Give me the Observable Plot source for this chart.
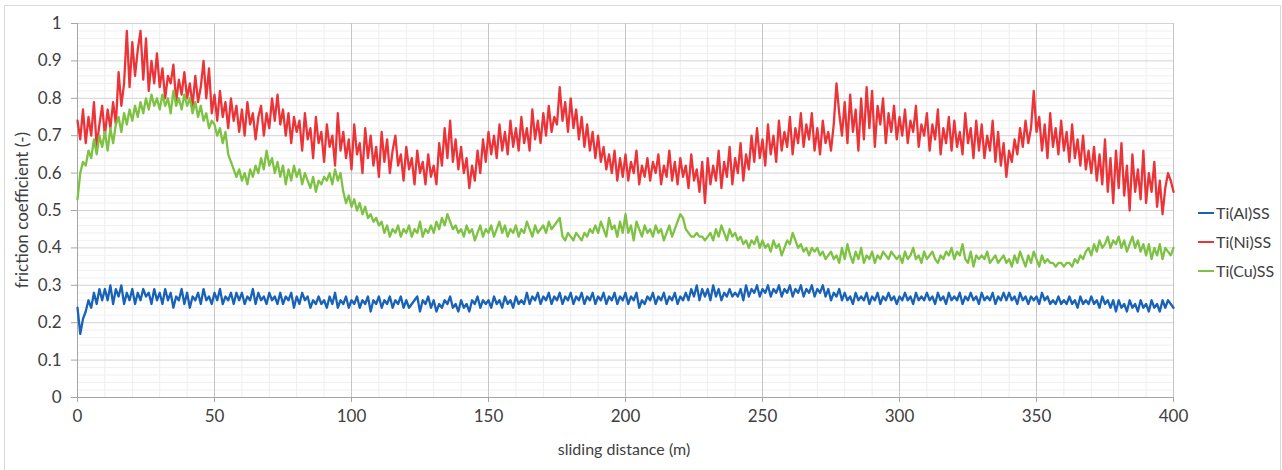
<!DOCTYPE html>
<html><head><meta charset="utf-8">
<script src="https://cdn.jsdelivr.net/npm/d3@7"></script>
<script src="https://cdn.jsdelivr.net/npm/@observablehq/plot@0.6"></script>
<style>
body{margin:0;background:#fff;}
#wrap{position:relative;width:1282px;height:470px;font-family:Lato,"Open Sans",sans-serif;color:#404040;overflow:hidden}
#frame{position:absolute;left:4px;top:5px;width:1275px;height:480px;border:1px solid #d9d9d9;pointer-events:none}
#legend{position:absolute;left:1198px;top:198px;font-size:16px}
#legend div{height:29px;line-height:29px;display:flex;align-items:center;white-space:nowrap}
#legend span.sw{display:inline-block;width:16px;height:2px;margin-right:2px}
#xlab{position:absolute;left:0;width:1248px;top:439px;text-align:center;font-size:16px}
#ylab{position:absolute;left:21px;top:210px;font-size:17px;transform:translate(-50%,-50%) rotate(-90deg);white-space:nowrap}
</style>
</head><body>
<div id="wrap"><div id="chart"></div><div id="frame"></div><div id="legend"></div>
<div id="xlab">sliding distance (m)</div><div id="ylab">friction coefficient (-)</div></div>
<script>
const seriesNames = ["Ti(Al)SS", "Ti(Ni)SS", "Ti(Cu)SS"];
const seriesColors = ["#1862b8", "#ec3338", "#7dc242"];
const xTicks = [0, 50, 100, 150, 200, 250, 300, 350, 400];
const yTicks = [0, 0.1, 0.2, 0.3, 0.4, 0.5, 0.6, 0.7, 0.8, 0.9, 1];
const xStep = 1; // sliding distance between samples (m)

const alValues = [
.24,.17,.21,.23,.26,.24,.28,.25,.29,.26,
.29,.26,.30,.25,.29,.27,.30,.25,.28,.26,
.29,.25,.28,.26,.29,.27,.28,.25,.29,.26,
.28,.25,.29,.26,.28,.24,.27,.26,.29,.25,
.28,.24,.27,.26,.28,.25,.29,.26,.27,.25,
.28,.26,.29,.25,.27,.26,.28,.25,.28,.26,
.28,.25,.27,.26,.29,.25,.28,.26,.27,.25,
.28,.26,.27,.25,.28,.25,.27,.26,.28,.24,
.27,.25,.28,.26,.27,.24,.26,.25,.27,.25,
.26,.24,.27,.25,.28,.24,.26,.25,.27,.24,
.26,.25,.27,.24,.26,.25,.27,.23,.26,.25,
.27,.24,.26,.25,.27,.24,.26,.25,.27,.24,
.26,.24,.25,.26,.27,.23,.26,.25,.27,.24,
.26,.23,.25,.24,.26,.25,.27,.24,.25,.23,
.26,.24,.25,.23,.26,.25,.27,.24,.26,.25,
.26,.24,.27,.25,.26,.24,.27,.25,.26,.24,
.27,.25,.26,.25,.28,.25,.27,.26,.28,.25,
.27,.26,.28,.25,.27,.26,.28,.25,.27,.26,
.28,.25,.27,.26,.28,.25,.27,.26,.28,.25,
.27,.26,.28,.25,.27,.26,.28,.25,.27,.26,
.28,.25,.27,.26,.28,.24,.26,.25,.27,.26,
.28,.25,.27,.26,.28,.25,.27,.26,.28,.25,
.27,.26,.28,.26,.29,.27,.30,.26,.29,.27,
.29,.26,.30,.27,.29,.26,.28,.27,.29,.27,
.28,.27,.29,.26,.30,.27,.29,.28,.30,.27,
.29,.28,.30,.27,.29,.28,.30,.27,.29,.28,
.30,.27,.29,.28,.30,.27,.29,.28,.30,.27,
.29,.28,.30,.27,.29,.26,.28,.27,.29,.26,
.28,.26,.27,.25,.28,.26,.27,.26,.28,.25,
.27,.26,.28,.25,.27,.26,.28,.26,.27,.25,
.27,.26,.28,.26,.27,.25,.28,.26,.27,.26,
.28,.26,.27,.25,.28,.26,.27,.25,.28,.26,
.27,.26,.28,.25,.27,.26,.28,.26,.27,.25,
.28,.26,.27,.26,.28,.25,.27,.26,.28,.26,
.28,.26,.27,.25,.28,.26,.27,.25,.27,.26,
.27,.25,.28,.26,.27,.25,.26,.25,.27,.25,
.26,.25,.27,.25,.26,.24,.27,.25,.26,.25,
.27,.25,.26,.24,.27,.25,.26,.24,.26,.23,
.26,.24,.25,.23,.26,.24,.25,.23,.26,.24,
.25,.23,.26,.24,.25,.23,.26,.24,.26,.25,
.24];

const niValues = [
.74,.69,.77,.68,.75,.70,.79,.67,.73,.78,
.70,.77,.72,.79,.73,.87,.78,.84,.98,.83,
.95,.86,.93,.98,.85,.96,.82,.90,.84,.92,
.83,.88,.80,.86,.84,.89,.79,.85,.81,.87,
.80,.84,.78,.86,.79,.83,.90,.80,.88,.76,
.81,.74,.82,.75,.79,.72,.80,.74,.78,.71,
.77,.70,.79,.73,.76,.69,.75,.78,.70,.76,
.72,.80,.74,.81,.73,.77,.70,.76,.68,.75,
.71,.74,.66,.76,.69,.72,.64,.75,.68,.71,
.63,.73,.67,.70,.62,.76,.66,.71,.64,.69,
.61,.73,.65,.68,.60,.72,.64,.70,.62,.67,
.59,.71,.63,.69,.60,.66,.70,.62,.65,.58,
.67,.61,.64,.57,.66,.60,.63,.57,.65,.59,
.62,.57,.68,.62,.72,.64,.74,.63,.69,.61,
.67,.60,.64,.56,.62,.58,.66,.60,.69,.63,
.71,.65,.70,.64,.73,.66,.71,.65,.74,.67,
.72,.66,.75,.68,.72,.66,.77,.69,.74,.68,
.76,.70,.78,.71,.75,.73,.83,.74,.79,.71,
.80,.72,.77,.69,.75,.67,.73,.66,.71,.64,
.70,.63,.67,.61,.65,.60,.66,.58,.64,.59,
.65,.58,.63,.60,.66,.57,.62,.59,.64,.58,
.63,.60,.65,.57,.62,.59,.66,.58,.63,.57,
.64,.59,.62,.56,.65,.58,.61,.55,.63,.52,
.64,.57,.62,.58,.66,.56,.63,.59,.67,.57,
.64,.60,.68,.58,.65,.61,.70,.63,.72,.64,
.69,.62,.73,.65,.70,.63,.74,.66,.71,.67,
.75,.65,.72,.68,.76,.67,.73,.69,.76,.66,
.72,.65,.74,.68,.71,.66,.73,.84,.76,.70,
.79,.68,.81,.71,.77,.66,.80,.69,.83,.72,
.82,.67,.78,.73,.80,.68,.76,.71,.78,.69,
.75,.70,.77,.68,.74,.71,.78,.67,.73,.70,
.76,.66,.73,.69,.77,.65,.72,.68,.75,.66,
.74,.67,.71,.65,.76,.68,.72,.64,.74,.66,
.73,.64,.70,.66,.74,.63,.71,.62,.68,.59,
.66,.63,.69,.65,.72,.67,.74,.68,.72,.82,
.71,.75,.66,.73,.64,.76,.67,.72,.65,.74,
.66,.71,.63,.73,.64,.69,.62,.70,.61,.66,
.60,.67,.58,.65,.57,.69,.55,.64,.52,.66,
.56,.68,.54,.62,.50,.65,.55,.61,.53,.66,
.52,.60,.55,.63,.51,.58,.49,.56,.60,.58,
.55];

const cuValues = [
.53,.60,.63,.62,.66,.64,.69,.65,.70,.67,
.71,.66,.72,.68,.73,.75,.71,.76,.73,.77,
.74,.78,.75,.79,.76,.80,.77,.81,.78,.80,
.77,.81,.78,.80,.76,.82,.78,.80,.77,.81,
.78,.80,.76,.79,.75,.78,.74,.76,.72,.74,
.73,.70,.72,.68,.71,.65,.63,.61,.59,.61,
.58,.60,.57,.61,.59,.62,.60,.64,.61,.66,
.62,.64,.60,.63,.59,.62,.57,.61,.58,.62,
.59,.61,.57,.60,.58,.56,.59,.55,.58,.57,
.59,.58,.60,.57,.61,.58,.60,.55,.52,.54,
.51,.53,.50,.52,.49,.51,.48,.49,.47,.48,
.46,.47,.44,.46,.43,.45,.44,.46,.43,.45,
.44,.46,.43,.45,.44,.47,.43,.45,.44,.46,
.44,.47,.45,.48,.46,.49,.47,.45,.46,.44,
.45,.43,.46,.44,.45,.42,.44,.46,.43,.45,
.44,.46,.43,.45,.47,.44,.46,.43,.45,.44,
.46,.43,.45,.44,.47,.45,.43,.46,.44,.45,
.46,.44,.47,.45,.46,.47,.48,.43,.42,.44,
.43,.42,.44,.43,.42,.44,.43,.45,.44,.46,
.44,.47,.45,.43,.48,.45,.46,.43,.47,.44,
.49,.44,.46,.42,.47,.45,.43,.46,.44,.45,
.43,.46,.44,.45,.42,.44,.46,.43,.45,.47,
.49,.48,.45,.44,.43,.43,.44,.43,.43,.42,
.43,.44,.42,.45,.43,.46,.44,.42,.45,.43,
.44,.42,.43,.41,.42,.40,.42,.41,.43,.40,
.42,.40,.41,.39,.42,.40,.41,.38,.40,.42,
.41,.44,.42,.40,.41,.39,.40,.38,.40,.39,
.40,.38,.39,.37,.38,.39,.37,.38,.36,.40,
.37,.41,.38,.36,.39,.37,.40,.36,.38,.37,
.39,.36,.38,.37,.39,.38,.37,.39,.38,.37,
.38,.36,.39,.37,.38,.40,.37,.38,.36,.39,
.37,.38,.39,.37,.36,.38,.37,.39,.38,.40,
.37,.39,.38,.41,.37,.36,.39,.35,.38,.37,
.38,.37,.39,.36,.37,.38,.36,.37,.38,.36,
.37,.35,.38,.36,.39,.37,.35,.38,.36,.39,
.37,.35,.38,.36,.37,.36,.36,.35,.36,.36,
.35,.36,.36,.35,.37,.36,.38,.37,.39,.40,
.38,.41,.39,.42,.40,.41,.43,.40,.42,.41,
.43,.40,.42,.39,.41,.43,.40,.42,.39,.41,
.38,.41,.37,.40,.38,.41,.37,.40,.39,.38,
.40];

const allValues = [alValues, niValues, cuValues];
const data = allValues.flatMap((vals, k) => vals.map((v, i) => ({x: i * xStep, y: v, s: seriesNames[k]})));

const xMinor = d3.range(0, 401, 10).filter(d => d % 50 !== 0);
const yMinor = d3.range(0, 51, 1).filter(d => d % 5 !== 0).map(d => d / 50);

const chart = Plot.plot({
  width: 1282, height: 470,
  marginLeft: 77, marginRight: 109, marginTop: 23, marginBottom: 73,
  style: {fontFamily: "Lato, 'Open Sans', sans-serif", fontSize: "17px", color: "#404040", background: "transparent"},
  x: {domain: [0, 400]},
  y: {domain: [0, 1]},
  color: {domain: seriesNames, range: seriesColors},
  marks: [
    Plot.ruleX(xMinor, {stroke: "#ededed", strokeWidth: 1}),
    Plot.ruleY(yMinor, {stroke: "#f0f0f0", strokeWidth: 1}),
    Plot.ruleY(yTicks, {stroke: "#d3d3d3", strokeWidth: 1}),
    Plot.ruleX(xTicks, {stroke: "#c6c6c6", strokeWidth: 1}),
    Plot.axisX({ticks: xTicks, tickSize: 5, tickPadding: 7, label: null, stroke: "#a6a6a6", tickFormat: d3.format("d")}),
    Plot.axisY({ticks: yTicks, tickSize: 6, tickPadding: 10, label: null, stroke: "#a6a6a6", tickFormat: d => String(d)}),
    Plot.ruleY([0], {stroke: "#a6a6a6"}),
    Plot.ruleX([0], {stroke: "#a6a6a6"}),
    Plot.line(data, {x: "x", y: "y", z: "s", stroke: "s", strokeWidth: 2.3, strokeLinejoin: "round"})
  ]
});
document.getElementById("chart").appendChild(chart);

const legend = document.getElementById("legend");
seriesNames.forEach((n, i) => {
  const row = document.createElement("div");
  row.innerHTML = `<span class="sw" style="background:${seriesColors[i]}"></span><span>${n}</span>`;
  legend.appendChild(row);
});
</script>
</body></html>
